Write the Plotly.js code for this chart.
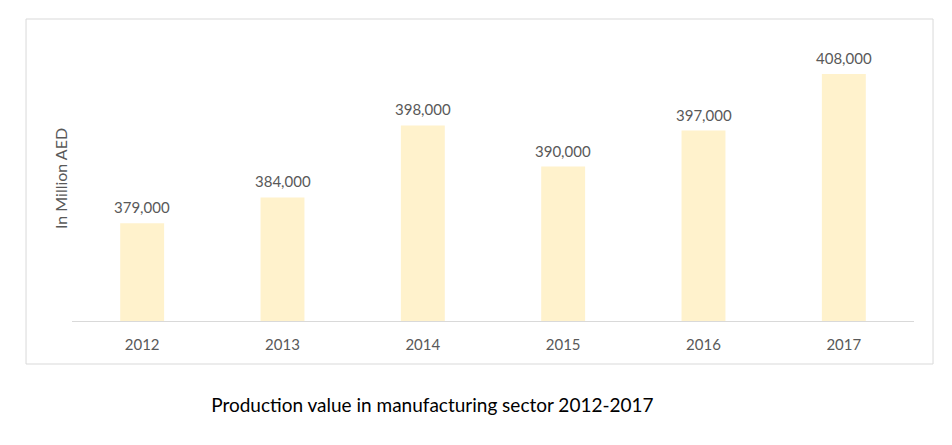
<!DOCTYPE html>
<html>
<head>
<meta charset="utf-8">
<script src="https://cdn.plot.ly/plotly-3.0.1.min.js"></script>
<style>html,body{margin:0;padding:0;background:#fff;}#chart{width:952px;height:445px;}</style>
</head>
<body>
<div id="chart"></div>
<script>
const years = ['2012', '2013', '2014', '2015', '2016', '2017'];
const values = [379000, 384000, 398000, 390000, 397000, 408000];
const valueLabels = ['379,000', '384,000', '398,000', '390,000', '397,000', '408,000'];
const chartTitle = 'Production value in manufacturing sector 2012-2017';
const yTitle = 'In Million AED';
const axisFloor = 360000;

const trace = {
  type: 'bar',
  x: years,
  y: values.map(v => v - axisFloor),
  base: axisFloor,
  marker: {color: '#FFF2CC'},
  hoverinfo: 'none'
};

// category axis: annotation x given as the category index
const labelAnnotations = years.map((yr, i) => ({
  x: i, y: values[i], xref: 'x', yref: 'y',
  text: valueLabels[i], showarrow: false,
  xanchor: 'center', yanchor: 'bottom', yshift: 5,
  font: {family: 'Lato, "Open Sans", sans-serif', size: 15, color: '#595959'}
}));

const layout = {
  width: 952, height: 445,
  margin: {l: 72, r: 38, t: 30, b: 124},
  paper_bgcolor: '#ffffff', plot_bgcolor: '#ffffff',
  bargap: 0.687,
  showlegend: false,
  font: {family: 'Lato, "Open Sans", sans-serif', color: '#595959'},
  title: {
    text: chartTitle,
    font: {family: 'Lato, "Open Sans", sans-serif', size: 19, color: '#000000'},
    xref: 'paper', x: 0.428, xanchor: 'center',
    yref: 'container', y: 0.09, yanchor: 'middle'
  },
  xaxis: {
    type: 'category',
    range: [-0.5, years.length - 0.5],
    showline: true, linecolor: '#d9d9d9', linewidth: 1,
    ticks: '', showgrid: false, zeroline: false,
    ticklabelstandoff: 10,
    tickfont: {size: 15, color: '#595959'}
  },
  yaxis: {
    range: [axisFloor, 416527],
    showticklabels: false, showgrid: false, zeroline: false, showline: false, ticks: ''
  },
  annotations: [{
    text: yTitle, textangle: -90,
    xref: 'paper', yref: 'paper', x: -0.0143, y: 0.491,
    xanchor: 'center', yanchor: 'middle', showarrow: false,
    font: {size: 16, color: '#595959'}
  }].concat(labelAnnotations),
  shapes: [{
    type: 'rect', xref: 'paper', yref: 'paper',
    x0: -0.0546, x1: 1.0226, y0: -0.1478, y1: 1.0378,
    line: {color: '#d9d9d9', width: 1}, fillcolor: 'rgba(0,0,0,0)'
  }]
};
Plotly.newPlot('chart', [trace], layout, {displayModeBar: false, staticPlot: true});
</script>
</body>
</html>
